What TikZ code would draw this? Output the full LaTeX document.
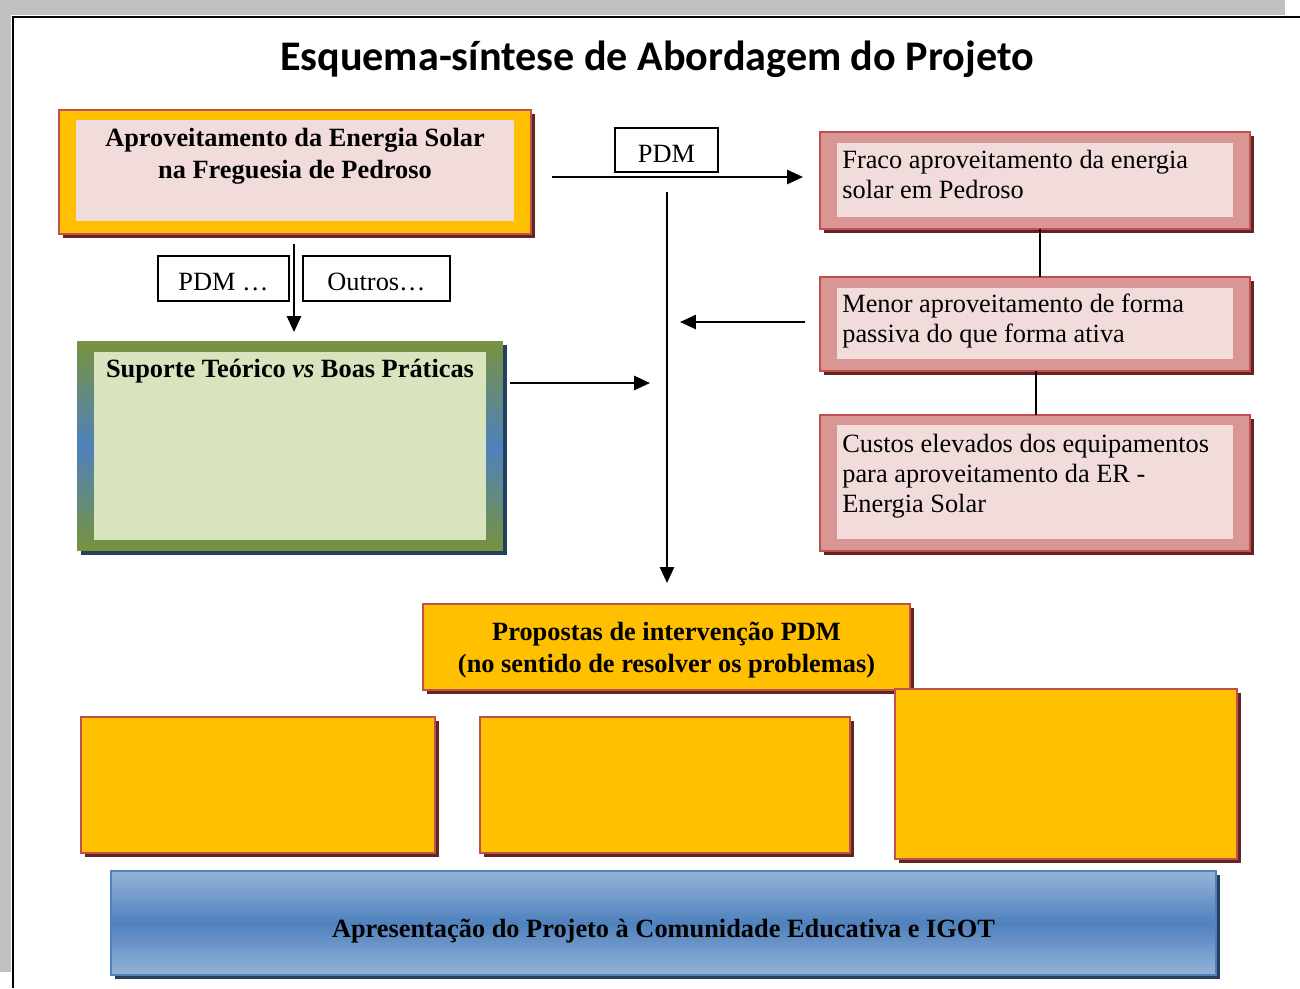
\documentclass[tikz,border=0pt]{standalone}
\usepackage{fontspec}
\setmainfont{Liberation Serif}
\newfontfamily\headfont{Carlito}
\usetikzlibrary{arrows.meta,shadows}
\definecolor{ambar}{HTML}{FFC000}
\definecolor{tijolo}{HTML}{C0504D}
\definecolor{rosa}{HTML}{D99694}
\definecolor{rosaclaro}{HTML}{F2DCDB}
\definecolor{vinho}{HTML}{632523}
\definecolor{oliva}{HTML}{77933C}
\definecolor{azul}{HTML}{4F81BD}
\definecolor{azulclaro}{HTML}{95B3D7}
\definecolor{verdeclaro}{HTML}{D7E4BD}
\definecolor{marinho}{HTML}{243F60}
\definecolor{cinza}{HTML}{C0C0C0}
\begin{document}
\begin{tikzpicture}[x=0.02cm,y=-0.02cm]
\tikzset{caixa/.style={minimum width=#1, inner sep=0, outer sep=0},
  sombra/.style={drop shadow={shadow xshift=0.08cm, shadow yshift=-0.08cm, opacity=1, fill=#1}},
  quadro/.style={draw=tijolo, line width=1pt, fill=ambar, sombra=vinho},
  quadrorosa/.style={draw=tijolo, line width=1pt, fill=rosa, sombra=vinho},
  miolo/.style={fill=rosaclaro, inner sep=0, outer sep=0},
  txt/.style={font=\fontsize{15}{17}\selectfont, inner sep=0, align=left},
  txtb/.style={font=\fontsize{15}{18}\selectfont\bfseries, inner sep=0, align=center},
  etiqueta/.style={draw, line width=0.8pt, font=\fontsize{15}{17}\selectfont, inner sep=0, outer sep=0},
  seta/.style={-{Triangle[length=9pt,width=8pt]}, line width=1.2pt}}
\useasboundingbox (0,0) rectangle (1300,988);
\fill[cinza] (0,0) rectangle (1285,15);
\fill[cinza] (0,15) rectangle (11,972);
\draw[line width=1.2pt] (1300,17) -- (13,17) -- (13,988);

\node[font=\headfont\bfseries\fontsize{24}{28}\selectfont, inner sep=0, anchor=base] (tit) at (657,70) {Esquema-síntese de Abordagem do Projeto};

\node[caixa=9.44cm, minimum height=2.48cm, quadro] (A) at (295,172) {};
\node[caixa=8.76cm, minimum height=2.02cm, miolo] (Ain) at (295,170.5) {};
\node[txtb, anchor=base] (tA) at (295,178) {Aproveitamento da Energia Solar\\na Freguesia de Pedroso};

\node[caixa=8.52cm, minimum height=4.2cm, line width=1pt, top color=oliva, bottom color=oliva, middle color=azul, sombra=marinho] (S) at (290,446) {};
\node[caixa=7.84cm, minimum height=3.76cm, fill=verdeclaro] (Sin) at (290,446) {};
\node[txtb, anchor=base] (tS) at (290,377) {Suporte Teórico \textit{vs} Boas Práticas};

\node[caixa=8.6cm, minimum height=1.94cm, quadrorosa] (F) at (1035,180.5) {};
\node[caixa=7.92cm, minimum height=1.48cm, miolo] (Fin) at (1035,180) {};
\node[txt, anchor=base west] (tF) at (842,198) {Fraco aproveitamento da energia\\solar em Pedroso};

\node[caixa=8.6cm, minimum height=1.88cm, quadrorosa] (M) at (1035,324) {};
\node[caixa=7.92cm, minimum height=1.42cm, miolo] (Min) at (1035,323.5) {};
\node[txt, anchor=base west] (tM) at (842,342) {Menor aproveitamento de forma\\passiva do que forma ativa};

\node[caixa=8.6cm, minimum height=2.72cm, quadrorosa] (C) at (1035,483) {};
\node[caixa=7.92cm, minimum height=2.28cm, miolo] (Cin) at (1035,482) {};
\node[txt, anchor=base west] (tC) at (842,512) {Custos elevados dos equipamentos\\para aproveitamento da ER -\\Energia Solar};

\node[caixa=9.74cm, minimum height=1.72cm, quadro] (P) at (666.5,647) {};
\node[txtb, anchor=base] (tP) at (666.5,672) {Propostas de intervenção PDM\\(no sentido de resolver os problemas)};

\node[caixa=7.08cm, minimum height=2.72cm, quadro] (P1) at (258,785) {};
\node[caixa=7.4cm, minimum height=2.72cm, quadro] (P2) at (665,785) {};
\node[caixa=6.84cm, minimum height=3.4cm, quadro] (P3) at (1066,774) {};

\node[caixa=22.1cm, minimum height=2.08cm, draw=azul, line width=1pt, top color=azulclaro, bottom color=azulclaro, middle color=azul, sombra=marinho] (B) at (663.5,923) {};
\node[txtb, anchor=base] (tB) at (663.5,937) {Apresentação do Projeto à Comunidade Educativa e IGOT};

\node[etiqueta, minimum width=2.06cm, text height=19.8pt, text depth=5.1pt] (pdm) at (666.5,150) {PDM};
\node[etiqueta, minimum width=2.62cm, text height=19.3pt, text depth=6.2pt] (pdm2) at (223.5,278.5) {PDM \dots};
\node[etiqueta, minimum width=2.94cm, text height=19.3pt, text depth=6.2pt] (out) at (376.5,278.5) {Outros\dots};

\coordinate (h1) at (552,177);
\coordinate (h2) at (803,177);
\coordinate (v1) at (667,192);
\coordinate (v2) at (667,583);
\coordinate (m1) at (680,322);
\coordinate (s1) at (650,383);

\path (h1) edge [seta] (h2);
\path (v1) edge [seta] (v2);
\path ([xshift=-0.3cm]M.west |- m1) edge [seta] (m1);
\path ([xshift=0.14cm]S.east |- s1) edge [seta] (s1);
\path ([xshift=-0.02cm,yshift=-0.2cm]A.south) edge [seta] ([xshift=-0.02cm,yshift=0.18cm]S.north -| A.south);
\path ([xshift=0.1cm]F.south) edge [line width=1pt] ([xshift=0.1cm]M.north);
\path ([xshift=0.02cm]M.south) edge [line width=1pt] ([xshift=0.02cm]C.north);
\end{tikzpicture}
\end{document}
